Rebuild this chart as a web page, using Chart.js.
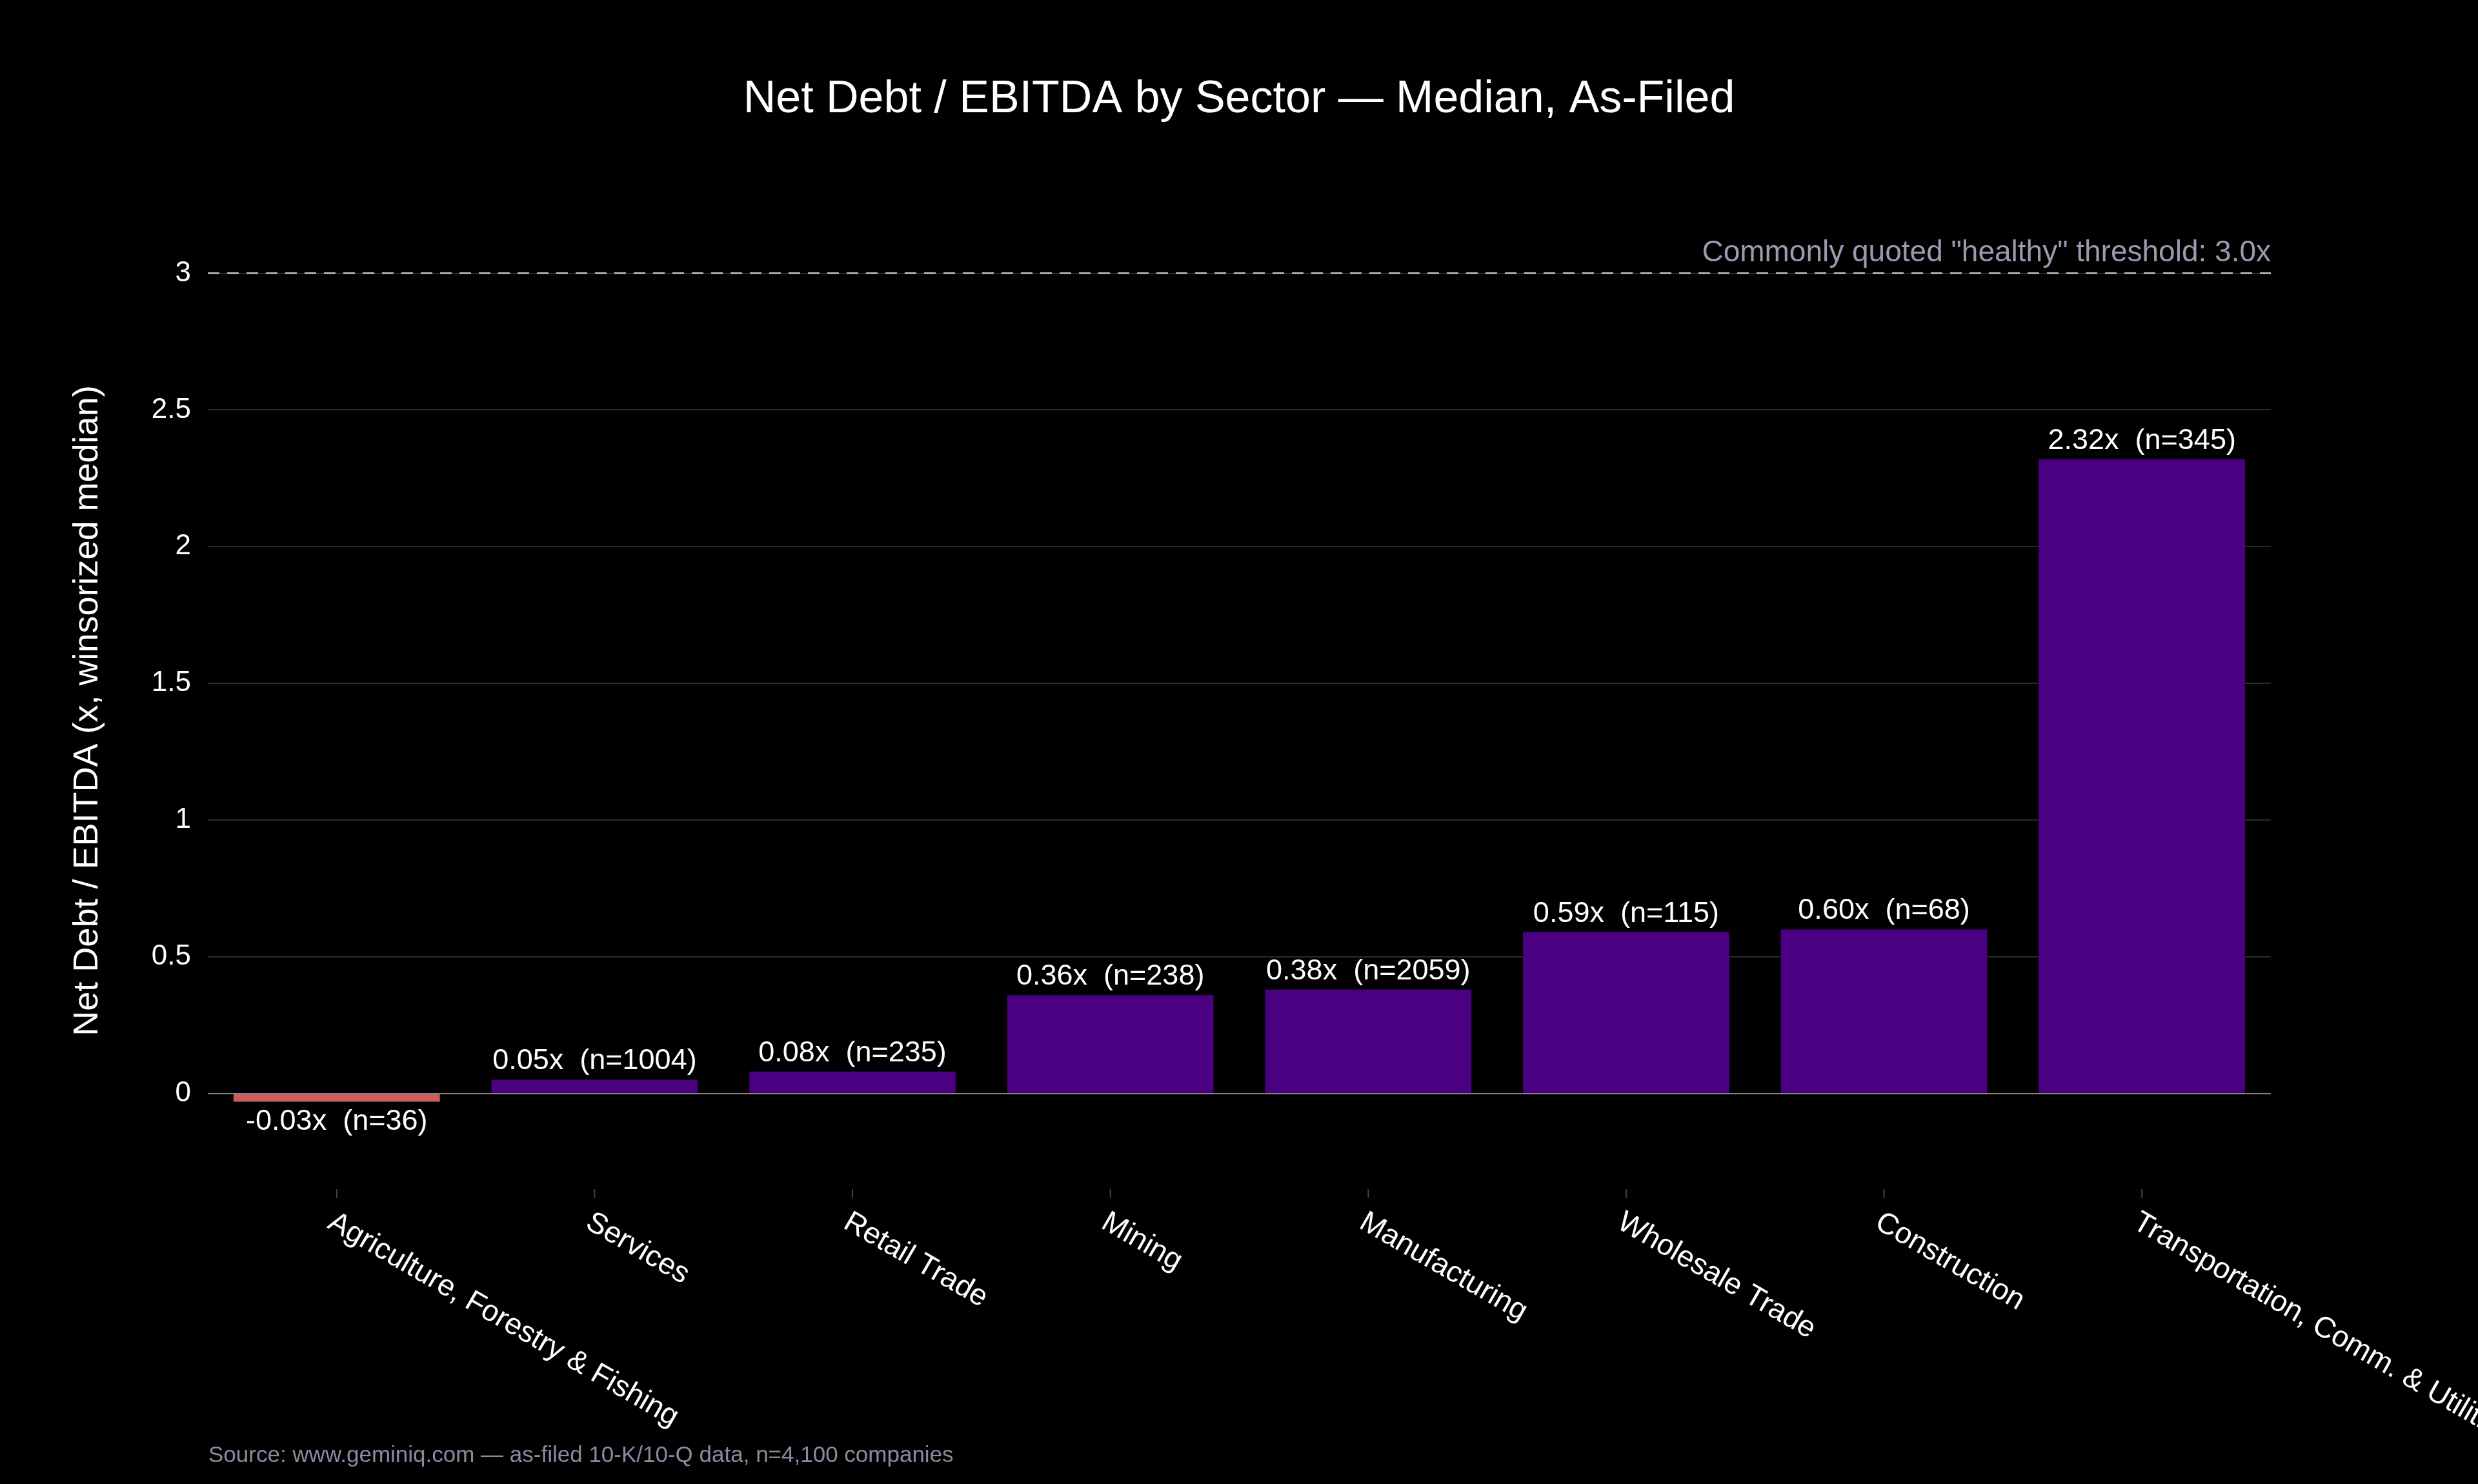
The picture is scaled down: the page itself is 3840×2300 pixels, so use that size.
<!DOCTYPE html>
<html><head><meta charset="utf-8">
<script src="https://cdn.jsdelivr.net/npm/chart.js@4"></script>
<style>html,body{margin:0;background:#000}</style>
</head><body>
<canvas id="c" width="3840" height="2300"></canvas>
<script>
const sectors = ['Agriculture, Forestry & Fishing', 'Services', 'Retail Trade', 'Mining', 'Manufacturing', 'Wholesale Trade', 'Construction', 'Transportation, Comm. & Utilities'];
const medians = [-0.03, 0.05, 0.08, 0.36, 0.38, 0.59, 0.60, 2.32];
const counts = [36, 1004, 235, 238, 2059, 115, 68, 345];
const threshold = 3.0;
const FONT = 'Liberation Sans, Arial, sans-serif';

const extras = {
  id: 'extras',
  afterDatasetsDraw(chart) {
    const ctx = chart.ctx, x = chart.scales.x, y = chart.scales.y, area = chart.chartArea;
    ctx.save();
    // title, centred on the page
    ctx.fillStyle = '#ffffff'; ctx.font = '70px ' + FONT;
    ctx.textAlign = 'center'; ctx.textBaseline = 'middle';
    ctx.fillText('Net Debt / EBITDA by Sector \u2014 Median, As-Filed', 1920, 155);
    // threshold line
    const ty = y.getPixelForValue(threshold);
    ctx.strokeStyle = '#aaaaaa'; ctx.lineWidth = 3; ctx.setLineDash([18, 12]);
    ctx.beginPath(); ctx.moveTo(area.left, ty); ctx.lineTo(area.right, ty); ctx.stroke();
    ctx.setLineDash([]);
    ctx.fillStyle = '#9a9ab0'; ctx.font = '46px ' + FONT;
    ctx.textAlign = 'right'; ctx.textBaseline = 'bottom';
    ctx.fillText('Commonly quoted "healthy" threshold: 3.0x', area.right, ty - 8);
    // bar labels
    ctx.fillStyle = '#ffffff'; ctx.font = '45px ' + FONT; ctx.textAlign = 'center';
    const meta = chart.getDatasetMeta(0);
    meta.data.forEach((bar, i) => {
      const v = medians[i];
      const txt = v.toFixed(2) + 'x  (n=' + counts[i] + ')';
      if (v >= 0) { ctx.textBaseline = 'bottom'; ctx.fillText(txt, bar.x, bar.y - 6); }
      else { ctx.textBaseline = 'top'; ctx.fillText(txt, bar.x, bar.base + 20); }
    });
    // x labels, rotated down-right
    ctx.font = '46px ' + FONT; ctx.textAlign = 'left'; ctx.textBaseline = 'middle';
    sectors.forEach((s, i) => {
      const px = x.getPixelForValue(i);
      ctx.strokeStyle = '#444'; ctx.lineWidth = 2;
      ctx.beginPath(); ctx.moveTo(px, area.bottom); ctx.lineTo(px, area.bottom + 14); ctx.stroke();
      ctx.save();
      ctx.translate(px - 10, area.bottom + 48);
      ctx.rotate(Math.PI / 6);
      ctx.fillText(s, 0, 0);
      ctx.restore();
    });
    // source
    ctx.fillStyle = '#8a8aa0'; ctx.font = '35px ' + FONT; ctx.textAlign = 'left'; ctx.textBaseline = 'alphabetic';
    ctx.fillText('Source: www.geminiq.com \u2014 as-filed 10-K/10-Q data, n=4,100 companies', 323, 2266);
    ctx.restore();
  }
};

new Chart(document.getElementById('c'), {
  type: 'bar',
  data: {
    labels: sectors,
    datasets: [{
      data: medians,
      backgroundColor: medians.map(v => v < 0 ? '#cd5c5c' : '#4b0082'),
      categoryPercentage: 1, barPercentage: 0.8
    }]
  },
  options: {
    responsive: false, animation: false,
    layout: { padding: { top: 360, right: 321, bottom: 449, left: 100 } },
    plugins: { legend: { display: false }, tooltip: { enabled: false } },
    scales: {
      x: { ticks: { display: false }, grid: { display: false }, border: { display: false } },
      y: {
        min: -0.35, max: 3.15,
        afterBuildTicks: a => { a.ticks = [0, 0.5, 1, 1.5, 2, 2.5, 3].map(v => ({ value: v })); },
        ticks: { color: '#ffffff', font: { family: FONT, size: 44 }, padding: 26, callback: v => String(v) },
        grid: { color: c => c.tick.value === 0 ? '#888888' : '#2a2a2a', lineWidth: 2, drawTicks: false },
        border: { display: false },
        title: { display: true, text: 'Net Debt / EBITDA (x, winsorized median)', color: '#ffffff',
          font: { family: FONT, size: 54 }, padding: { bottom: 40 } }
      }
    }
  },
  plugins: [extras]
});
</script>
</body></html>
